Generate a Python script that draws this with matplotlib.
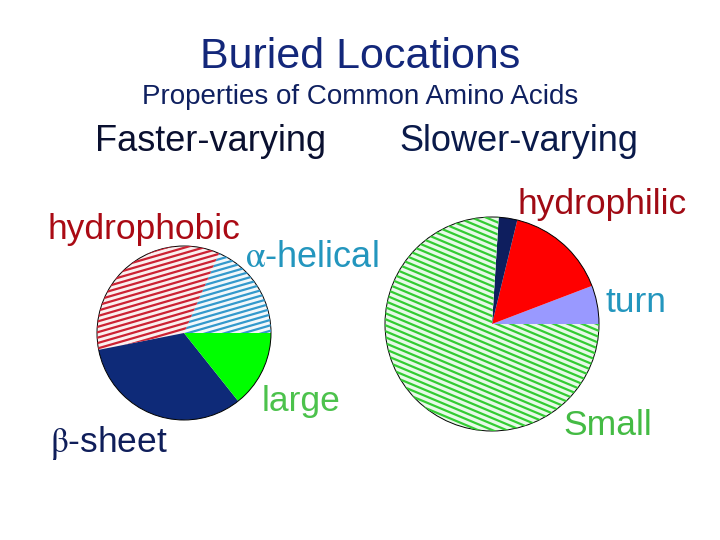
import numpy as np
import matplotlib
matplotlib.use('Agg')
import matplotlib.pyplot as plt
from matplotlib.patches import Circle

plt.rcParams['font.family'] = ['Liberation Sans', 'DejaVu Sans']
plt.rcParams['mathtext.fontset'] = 'stix'

# Dados (fracoes estimadas da figura), sentido anti-horario a partir de 0 graus
rapido_rotulos = ['α-helical', 'hydrophobic', 'β-sheet', 'large']
rapido_valores = [18.4, 34.7, 32.6, 14.3]

lento_rotulos = ['turn', 'hydrophilic', 'other', 'Small']
lento_valores = [5.8, 15.4, 2.8, 76.0]

W, H = 720, 540

fig = plt.figure(figsize=(7.2, 5.4), dpi=100)
ax = fig.add_axes([0, 0, 1, 1])


def py(y):
    # converte y em pixels (de cima) para coordenada do eixo
    return H - y


def hachura(ax, wedge, cor_linha, cor_fundo, inclinacao, espaco, centro, raio):
    wedge.set_facecolor(cor_fundo)
    cx, cy = centro
    xs = np.array([cx - raio - 5, cx + raio + 5])
    for b in np.arange(-2 * raio, 2 * raio, espaco):
        ys = cy + b + inclinacao * (xs - cx)
        ln, = ax.plot(xs, ys, color=cor_linha, lw=1.6, solid_capstyle='butt')
        ln.set_clip_path(wedge)


# Pizza da esquerda
c1, r1 = (184, py(333)), 87
cores1 = ['white', 'white', '#0E2A78', '#00FF00']
w1, _ = ax.pie(rapido_valores, colors=cores1, startangle=0, counterclock=True,
               center=c1, radius=r1, wedgeprops=dict(linewidth=0))
hachura(ax, w1[0], '#3399CC', '#F2F8FB', 0.29, 5.4, c1, r1)
hachura(ax, w1[1], '#CC2233', '#FBEFEF', 0.29, 5.4, c1, r1)
ax.add_patch(Circle(c1, r1, fill=False, ec='black', lw=0.7))

# Pizza da direita
c2, r2 = (492, py(324)), 107
cores2 = ['#9999FF', '#FF0000', '#0E1E5E', 'white']
w2, _ = ax.pie(lento_valores, colors=cores2, startangle=0, counterclock=True,
               center=c2, radius=r2, wedgeprops=dict(linewidth=0))
hachura(ax, w2[3], '#33CC33', '#E8FAE8', -0.42, 6.0, c2, r2)
ax.add_patch(Circle(c2, r2, fill=False, ec='black', lw=0.7))

ax.set_xlim(0, W)
ax.set_ylim(0, H)
ax.set_aspect('equal')
ax.axis('off')

# Textos
ax.text(360, py(68), 'Buried Locations', ha='center', va='baseline',
        fontsize=31, color='#13277A')
ax.text(360, py(104), 'Properties of Common Amino Acids', ha='center',
        va='baseline', fontsize=20, color='#0F2060')
ax.text(95, py(151), 'Faster-varying', ha='left', va='baseline',
        fontsize=26, color='#0A1030')
ax.text(399, py(151), 'Slower-varying', ha='left', va='baseline',
        fontsize=26, color='#0A1A4A')

ax.text(48, py(239), 'hydrophobic', ha='left', va='baseline',
        fontsize=25.5, color='#AA0A14')
ax.text(245, py(267), r'$\mathrm{\alpha}$-helical', ha='left', va='baseline',
        fontsize=26, color='#2396BE')
ax.text(262, py(411), 'large', ha='left', va='baseline',
        fontsize=25.5, color='#4CC24C')
ax.text(50, py(452), r'$\mathrm{\beta}$-sheet', ha='left', va='baseline',
        fontsize=25.5, color='#0F1E5A')

ax.text(517, py(214), 'hydrophilic', ha='left', va='baseline',
        fontsize=25.5, color='#A00A14')
ax.text(605, py(312), 'turn', ha='left', va='baseline',
        fontsize=25.5, color='#2396BE')
ax.text(563, py(435), 'Small', ha='left', va='baseline',
        fontsize=25.5, color='#44BB44')

fig.savefig('out.png', dpi=100)
